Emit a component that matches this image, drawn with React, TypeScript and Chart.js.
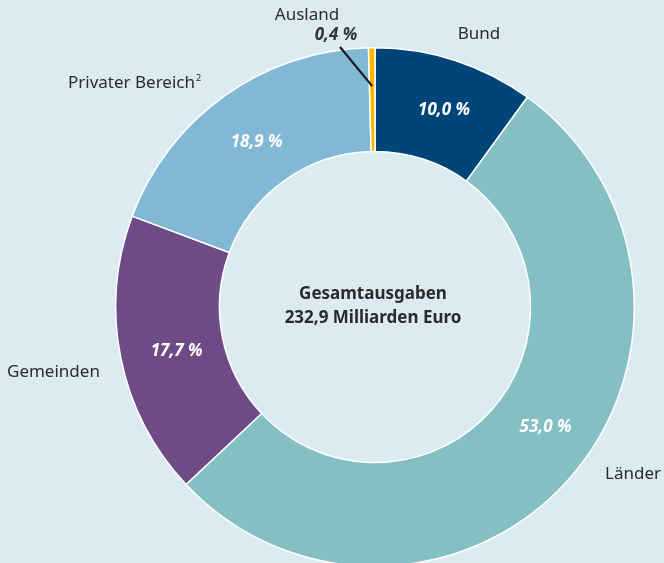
import React, { useEffect, useRef } from "react";
import Chart from "chart.js/auto";

const categories = ["Bund", "Länder", "Gemeinden", "Privater Bereich", "Ausland"];
const shares = [10.0, 53.0, 17.7, 18.9, 0.4];
const colors = ["#00457a", "#84bfc3", "#6f4a85", "#81b8d4", "#f6b800"];
const centerLines = ["Gesamtausgaben", "232,9 Milliarden Euro"];

// label placement (offsets relative to chart centre / arc label position)
const outerLabelPos = [
  { dx: 104, dy: -273, align: "center" },
  { dx: 230, dy: 167, align: "left" },
  { dx: -368, dy: 65, align: "left" },
  { dx: -307, dy: -224, align: "left" },
  { dx: -68, dy: -292, align: "center" },
];
const pctOffset = [
  { dx: 5, dy: 0 },
  { dx: 15, dy: -17 },
  { dx: 5, dy: 3 },
  { dx: 2, dy: 4 },
];

const fmt = (v: number) => v.toFixed(1).replace(".", ",") + " %";

export default function App() {
  const ref = useRef<HTMLCanvasElement>(null);
  useEffect(() => {
    document.body.style.margin = "0";
    const labelPlugin = {
      id: "labels",
      afterDatasetsDraw(chart: any) {
        const ctx = chart.ctx;
        const meta = chart.getDatasetMeta(0);
        const first = meta.data[0];
        const cx = first.x;
        const cy = first.y;
        ctx.save();
        ctx.textBaseline = "middle";
        // percentage labels inside arcs
        meta.data.forEach((arc: any, i: number) => {
          if (i >= pctOffset.length) return;
          const p = arc.tooltipPosition();
          ctx.font = "italic bold 17px 'Noto Sans'";
          ctx.fillStyle = "#ffffff";
          ctx.textAlign = "center";
          ctx.fillText(fmt(shares[i]), p.x + pctOffset[i].dx, p.y + pctOffset[i].dy);
        });
        // Ausland: dark percent label + leader line
        const aus: any = meta.data[4];
        const mid = (aus.startAngle + aus.endAngle) / 2;
        const rIn = aus.innerRadius + (aus.outerRadius - aus.innerRadius) * 0.63;
        const ex = cx + Math.cos(mid) * rIn;
        const ey = cy + Math.sin(mid) * rIn;
        ctx.strokeStyle = "#1a1a1a";
        ctx.lineWidth = 2.2;
        ctx.beginPath();
        ctx.moveTo(cx - 35, cy - 260);
        ctx.lineTo(ex, ey);
        ctx.stroke();
        ctx.font = "italic bold 17px 'Noto Sans'";
        ctx.fillStyle = "#333333";
        ctx.textAlign = "center";
        ctx.fillText(fmt(shares[4]), cx - 39, cy - 272);
        // outer category labels
        ctx.fillStyle = "#2b2b2b";
        categories.forEach((c, i) => {
          const pos = outerLabelPos[i];
          ctx.textAlign = pos.align;
          ctx.font = "17px 'Noto Sans'";
          ctx.fillText(c, cx + pos.dx, cy + pos.dy);
          if (i === 3) {
            const w = ctx.measureText(c).width;
            ctx.font = "9px 'Noto Sans'";
            ctx.textAlign = "left";
            ctx.fillText("2", cx + pos.dx + w + 1, cy + pos.dy - 5);
          }
        });
        // centre text
        ctx.font = "bold 17px 'Noto Sans'";
        ctx.fillStyle = "#2b2b2b";
        ctx.textAlign = "center";
        ctx.fillText(centerLines[0], cx - 2, cy - 13);
        ctx.fillText(centerLines[1], cx - 2, cy + 11);
        ctx.restore();
      },
    };
    const chart = new Chart(ref.current!, {
      type: "doughnut",
      data: {
        labels: categories,
        datasets: [
          {
            data: shares,
            backgroundColor: colors,
            borderColor: "#ffffff",
            borderWidth: 1.5,
          },
        ],
      },
      options: {
        responsive: false,
        animation: false,
        cutout: "60%",
        layout: { padding: { left: 115, right: 29, top: 47, bottom: 13 } },
        plugins: { legend: { display: false }, tooltip: { enabled: false } },
      },
      plugins: [labelPlugin],
    });
    return () => chart.destroy();
  }, []);
  return (
    <div
      style={{
        width: 664,
        height: 563,
        overflow: "hidden",
        background: "#dcebf2",
        position: "relative",
      }}
    >
      <canvas ref={ref} width={664} height={580} style={{ display: "block" }} />
    </div>
  );
}
